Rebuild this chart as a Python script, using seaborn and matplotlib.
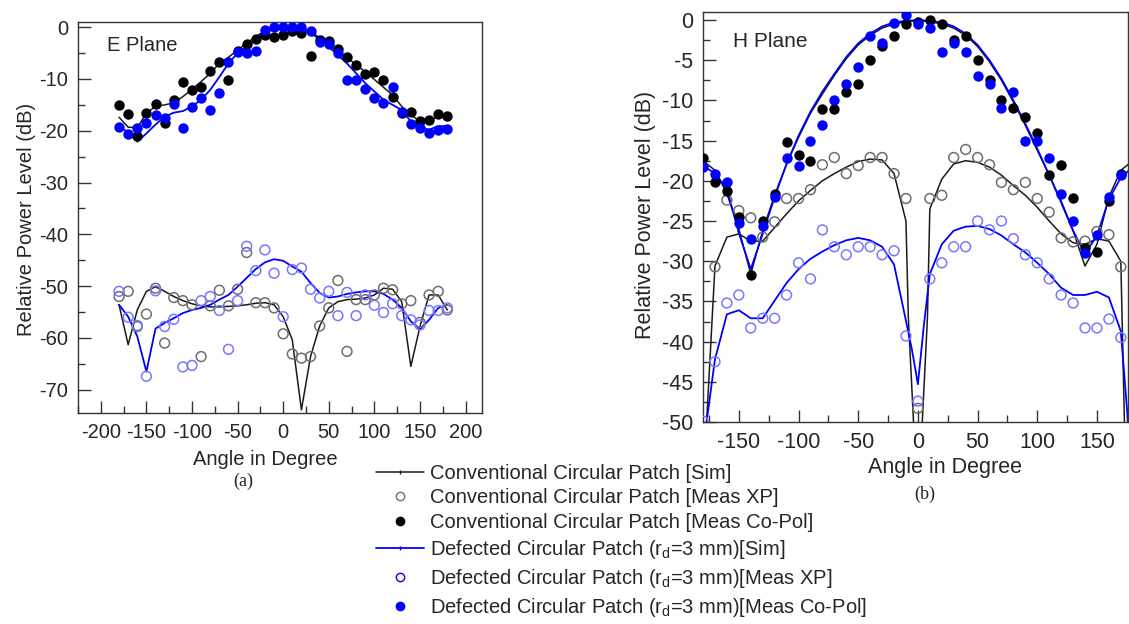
import numpy as np
import pandas as pd
import matplotlib
matplotlib.use("Agg")
import matplotlib.pyplot as plt
from matplotlib.lines import Line2D
from matplotlib.ticker import MultipleLocator
import seaborn as sns

# ---- E plane (a): angles every 10 degrees
e_angle = [-180, -170, -160, -150, -140, -130, -120, -110, -100, -90, -80, -70, -60, -50,
           -40, -30, -20, -10, 0, 10, 20, 30, 40, 50, 60, 70, 80, 90, 100, 110, 120, 130,
           140, 150, 160, 170, 180]
e_conv_sim = [-17.4, -19.3, -19.4, -16.6, -15.3, -15.0, -14.6, -13.4, -12.0, -10.5, -8.9, -7.0,
              -5.8, -4.4, -3.1, -1.8, -0.7, -0.4, -0.2, -0.2, -0.4, -1.2, -2.3, -3.4, -4.7,
              -5.8, -7.3, -8.6, -10.1, -11.6, -13.1, -15.3, -16.9, -18.2, -17.9, -17.4, -17.4]
e_def_sim = [-19.3, -20.2, -22.1, -20.5, -18.8, -17.3, -16.5, -16.2, -15.3, -14.0, -12.1, -9.6,
             -7.0, -5.0, -3.8, -2.1, -0.8, -0.2, -0.1, -0.1, -0.2, -0.8, -2.1, -3.8, -5.4,
             -7.0, -8.9, -10.8, -12.4, -14.0, -15.0, -16.0, -18.2, -19.3, -19.8, -19.1, -19.1]
e_conv_copol = [-15.1, -16.8, -21.0, -16.6, -14.9, -18.5, -14.0, -10.5, -12.1, -11.5, -8.5, -6.8,
                -10.2, -4.6, -3.2, -2.3, -1.5, -1.8, -1.5, -0.7, -1.1, -5.6, -2.5, -2.6, -4.2,
                -5.7, -7.3, -9.0, -8.7, -10.2, -13.4, -16.6, -16.3, -18.2, -17.9, -16.8, -17.2]
e_def_copol = [-19.3, -20.7, -19.5, -18.5, -16.9, -17.5, -14.9, -19.4, -15.5, -13.6, -16.0, -12.8,
               -6.7, -4.7, -5.0, -4.5, -0.5, 0.0, 0.0, 0.0, 0.0, -0.7, -2.9, -3.3, -4.9,
               -10.2, -10.2, -12.0, -13.6, -14.7, -11.6, -16.4, -18.7, -19.4, -20.4, -19.8, -19.7]
e_conv_xp_sim = [-53.6, -61.3, -54.6, -51.0, -50.1, -51.0, -52.0, -52.8, -53.4, -53.8, -54.0, -54.0,
                 -53.9, -53.8, -53.6, -53.3, -53.2, -53.6, -55.9, -60.4, -73.9, -63.6, -57.7, -54.2,
                 -53.0, -52.6, -52.5, -52.3, -51.7, -50.4, -50.6, -53.0, -65.5, -57.8, -51.7, -51.7, -54.6]
e_def_xp_sim = [-53.6, -55.9, -59.7, -66.5, -58.2, -57.1, -56.2, -55.2, -54.6, -54.2, -53.6, -52.6,
                -51.7, -50.1, -48.4, -46.7, -45.4, -44.8, -45.1, -46.2, -47.2, -49.4, -51.3, -52.2,
                -52.0, -51.5, -51.2, -51.0, -51.0, -51.5, -52.6, -54.2, -56.8, -58.3, -56.5, -54.2, -53.6]
e_conv_xp = [-52.0, -51.0, -57.8, -55.4, -50.4, -61.0, -52.2, -52.8, -53.6, -63.6, -53.8, -50.8,
             -53.8, -50.6, -43.5, -53.2, -53.2, -54.2, -59.2, -63.1, -63.9, -63.6, -57.7, -54.2,
             -48.9, -62.6, -52.6, -52.6, -51.7, -50.4, -50.7, -53.4, -52.8, -57.0, -51.7, -51.0, -54.6]
e_def_xp = [-51.0, -56.0, -57.6, -67.4, -50.9, -57.8, -56.4, -65.6, -65.3, -52.8, -52.0, -54.7,
            -62.2, -52.8, -42.3, -47.0, -43.0, -47.5, -55.9, -46.8, -46.5, -50.6, -52.3, -51.0,
            -55.7, -51.2, -55.7, -51.7, -53.7, -55.1, -53.4, -55.7, -56.5, -57.5, -54.7, -54.7, -54.2]

# ---- H plane (b)
h_angle = e_angle
h_conv_sim = [-17.5, -18.7, -21.6, -26.0, -31.6, -26.2, -21.8, -17.9, -14.6, -11.6, -9.2, -6.9,
              -4.8, -3.1, -1.9, -1.0, -0.5, -0.2, -0.1, -0.2, -0.5, -1.0, -1.9, -3.3, -5.2,
              -7.5, -10.2, -13.1, -16.2, -19.3, -22.5, -26.2, -30.6, -27.9, -22.0, -18.7, -17.5]
h_def_sim = [-18.1, -19.1, -21.0, -26.5, -31.0, -26.6, -22.0, -17.9, -14.4, -11.4, -8.9, -6.7,
             -4.6, -2.9, -1.7, -0.8, -0.3, -0.1, 0.0, -0.1, -0.3, -0.8, -1.7, -3.1, -5.0,
             -7.3, -10.0, -12.9, -16.0, -19.3, -22.7, -26.2, -29.1, -26.8, -22.3, -19.6, -18.3]

h_meas_angle = e_angle[:-1]
h_conv_copol = [-17.1, -20.2, -21.3, -24.5, -31.7, -25.0, -21.6, -15.2, -16.8, -17.5, -11.1, -11.1,
                -9.0, -8.0, -5.0, -3.2, -2.0, -0.5, -0.3, 0.0, -0.5, -2.5, -2.0, -5.0, -7.5,
                -10.0, -11.0, -12.1, -14.0, -19.3, -18.0, -22.1, -28.4, -28.8, -22.5, -19.1]
h_def_copol = [-18.3, -19.2, -20.1, -25.2, -27.2, -25.6, -22.0, -17.1, -18.1, -15.1, -13.0, -10.0,
               -8.0, -5.9, -2.0, -2.9, -0.4, 0.6, -0.5, -1.0, -4.0, -2.9, -4.0, -7.0, -8.0,
               -11.0, -9.0, -15.1, -15.1, -17.1, -21.6, -25.0, -29.0, -26.8, -22.0, -19.3]
h_conv_xp = [np.nan, -30.7, -22.4, -23.7, -24.6, -27.0, -25.1, -22.2, -22.2, -21.1, -18.0, -17.1,
             -19.1, -18.1, -17.1, -17.1, -19.1, -22.2, -48.3, -22.2, -21.8, -17.1, -16.1, -17.1,
             -18.0, -20.2, -21.1, -20.2, -22.2, -23.9, -27.1, -27.6, -27.5, -26.3, -26.7, -30.7]
h_def_xp = [-49.9, -42.5, -35.2, -34.2, -38.3, -37.1, -37.1, -34.2, -30.2, -32.2, -26.1, -28.2,
            -29.2, -28.2, -28.2, -29.2, -28.7, -39.3, -47.4, -32.2, -30.2, -28.2, -28.2, -25.0,
            -26.1, -25.0, -27.2, -29.2, -30.2, -32.2, -34.2, -35.2, -38.3, -38.3, -37.2, -39.5]

h_conv_xp_sim_angle = [-180, -177, -170, -160, -150, -140, -130, -120, -110, -100, -90, -80, -70,
                       -60, -50, -40, -30, -20, -10, -8, -5, -3, 0, 3, 5, 8, 10, 20, 30, 40, 50,
                       60, 70, 80, 90, 100, 110, 120, 130, 140, 150, 160, 170, 173, 180]
h_conv_xp_sim = [-60, -50, -30.6, -27.0, -26.6, -27.5, -27.5, -25.8, -24.1, -22.5, -21.2, -20.0,
                 -19.1, -18.3, -17.6, -17.3, -17.4, -19.1, -25.0, -37.0, -46.0, -52.0, -55.0,
                 -52.0, -46.0, -37.0, -23.5, -19.8, -17.9, -17.5, -17.7, -18.3, -19.3, -20.6,
                 -21.8, -23.3, -25.0, -26.6, -27.7, -27.9, -27.2, -27.5, -30.0, -50.0, -60.0]
h_def_xp_sim_angle = [-180, -177, -170, -160, -150, -140, -130, -120, -110, -100, -90, -80, -70,
                      -60, -50, -40, -30, -20, -10, -5, 0, 5, 10, 20, 30, 40, 50, 60, 70, 80, 90,
                      100, 110, 120, 130, 140, 150, 160, 170, 176, 180]
h_def_xp_sim = [-55, -50, -42.2, -36.6, -36.1, -37.1, -37.1, -34.9, -32.7, -31.0, -29.7, -28.8,
                -28.0, -27.4, -27.1, -27.4, -28.2, -30.4, -37.4, -41.0, -45.3, -38.0, -31.6,
                -27.9, -26.2, -25.7, -25.6, -26.0, -26.8, -27.9, -28.9, -30.2, -31.6, -33.3,
                -34.2, -34.2, -33.8, -34.5, -38.7, -50.0, -55.0]

labels = ["Conventional Circular Patch [Sim]",
          "Conventional Circular Patch [Meas XP]",
          "Conventional Circular Patch [Meas Co-Pol]",
          r"Defected Circular Patch (r$_\mathregular{d}$=3 mm)[Sim]",
          r"Defected Circular Patch (r$_\mathregular{d}$=3 mm)[Meas XP]",
          r"Defected Circular Patch (r$_\mathregular{d}$=3 mm)[Meas Co-Pol]"]

BLACK = "#1a1a1a"
BLUE = "#0000ff"
GRAY_OPEN = "#6e6e6e"
BLUE_OPEN = "#7878ff"

sns.set_style("ticks")
plt.rcParams["font.family"] = ["Liberation Sans", "DejaVu Sans"]
plt.rcParams["mathtext.default"] = "regular"
plt.rcParams["axes.unicode_minus"] = False

fig = plt.figure(figsize=(11.29, 6.24), dpi=100)
ax1 = fig.add_axes([0.0691, 0.3381, 0.3578, 0.6266])
ax2 = fig.add_axes([0.6227, 0.3237, 0.3764, 0.6571])


def draw_sim(ax, x, y, color, lw):
    sns.lineplot(x=x, y=y, ax=ax, color=color, lw=lw, errorbar=None, sort=False)


def draw_open(ax, x, y, color):
    sns.scatterplot(x=x, y=y, ax=ax, marker="o", s=50, facecolor="none",
                    edgecolor=color, linewidth=1.1, zorder=3)


def draw_filled(ax, x, y, color):
    sns.scatterplot(x=x, y=y, ax=ax, marker="o", s=56, color=color,
                    edgecolor=color, linewidth=0, zorder=3)


# E plane
draw_sim(ax1, e_angle, e_conv_xp_sim, BLACK, 1.1)
draw_sim(ax1, e_angle, e_def_xp_sim, BLUE, 1.3)
draw_sim(ax1, e_angle, e_conv_sim, BLACK, 1.1)
draw_sim(ax1, e_angle, e_def_sim, BLUE, 1.3)
draw_open(ax1, e_angle, e_conv_xp, GRAY_OPEN)
draw_open(ax1, e_angle, e_def_xp, BLUE_OPEN)
draw_filled(ax1, e_angle, e_conv_copol, "black")
draw_filled(ax1, e_angle, e_def_copol, BLUE)

# H plane
draw_sim(ax2, h_conv_xp_sim_angle, h_conv_xp_sim, BLACK, 1.1)
draw_sim(ax2, h_def_xp_sim_angle, h_def_xp_sim, BLUE, 1.3)
draw_sim(ax2, h_angle, h_conv_sim, BLACK, 1.1)
draw_sim(ax2, h_angle, h_def_sim, BLUE, 1.3)
draw_open(ax2, h_meas_angle, h_conv_xp, GRAY_OPEN)
draw_open(ax2, h_meas_angle, h_def_xp, BLUE_OPEN)
draw_filled(ax2, h_meas_angle, h_conv_copol, "black")
draw_filled(ax2, h_meas_angle, h_def_copol, BLUE)

# axes cosmetics
ax1.set_xlim(-225, 218)
ax1.set_ylim(-74.5, 1)
ax1.set_xticks([-200, -150, -100, -50, 0, 50, 100, 150, 200])
ax1.set_yticks([0, -10, -20, -30, -40, -50, -60, -70])
ax1.xaxis.set_minor_locator(MultipleLocator(25))
ax1.yaxis.set_minor_locator(MultipleLocator(5))

ax2.set_xlim(-180, 176)
ax2.set_ylim(-50, 1)
ax2.set_xticks([-150, -100, -50, 0, 50, 100, 150])
ax2.set_yticks([0, -5, -10, -15, -20, -25, -30, -35, -40, -45, -50])
ax2.xaxis.set_minor_locator(MultipleLocator(25))
ax2.yaxis.set_minor_locator(MultipleLocator(2.5))

for ax, fs in [(ax1, 14.5), (ax2, 15.5)]:
    for sp in ax.spines.values():
        sp.set_visible(True)
        sp.set_color("#333333")
        sp.set_linewidth(1.0)
    ax.tick_params(which="major", direction="in", length=9, width=1.0,
                   color="#333333", labelsize=fs, pad=7, top=False, right=False)
    ax.tick_params(which="minor", direction="in", length=5, width=1.0,
                   color="#333333", top=False, right=False)
    ax.set_xlabel("Angle in Degree", fontsize=fs)
    ax.set_ylabel("Relative Power Level (dB)", fontsize=fs)

ax1.xaxis.set_label_coords(0.463, -0.095)
ax1.yaxis.set_label_coords(-0.105, 0.494)
ax2.xaxis.set_label_coords(0.569, -0.085)
ax2.yaxis.set_label_coords(-0.11, 0.505)

ax1.text(0.072, 0.941, "E Plane", transform=ax1.transAxes, fontsize=14.5, va="center")
ax2.text(0.07, 0.929, "H Plane", transform=ax2.transAxes, fontsize=15, va="center")

fig.text(243 / 1129, 1 - 481 / 624, "(a)", family="Liberation Serif", fontsize=13,
         ha="center", va="center")
fig.text(925 / 1129, 1 - 494 / 624, "(b)", family="Liberation Serif", fontsize=13,
         ha="center", va="center")

handles = [
    Line2D([], [], color=BLACK, lw=1.1, marker="|", markersize=3),
    Line2D([], [], ls="none", marker="o", markersize=6, markerfacecolor="none",
           markeredgecolor=GRAY_OPEN, markeredgewidth=1.0),
    Line2D([], [], ls="none", marker="o", markersize=6, color="black"),
    Line2D([], [], color=BLUE, lw=1.3, marker="|", markersize=3),
    Line2D([], [], ls="none", marker="o", markersize=6, markerfacecolor="none",
           markeredgecolor=BLUE, markeredgewidth=1.0),
    Line2D([], [], ls="none", marker="o", markersize=6, color=BLUE),
]
fig.legend(handles, labels, loc="upper left", bbox_to_anchor=(0.333, 0.257),
           frameon=False, fontsize=14.5, handlelength=2.4, handletextpad=0.3,
           labelspacing=0.29, borderpad=0, borderaxespad=0)

fig.savefig("out.png", dpi=100)
